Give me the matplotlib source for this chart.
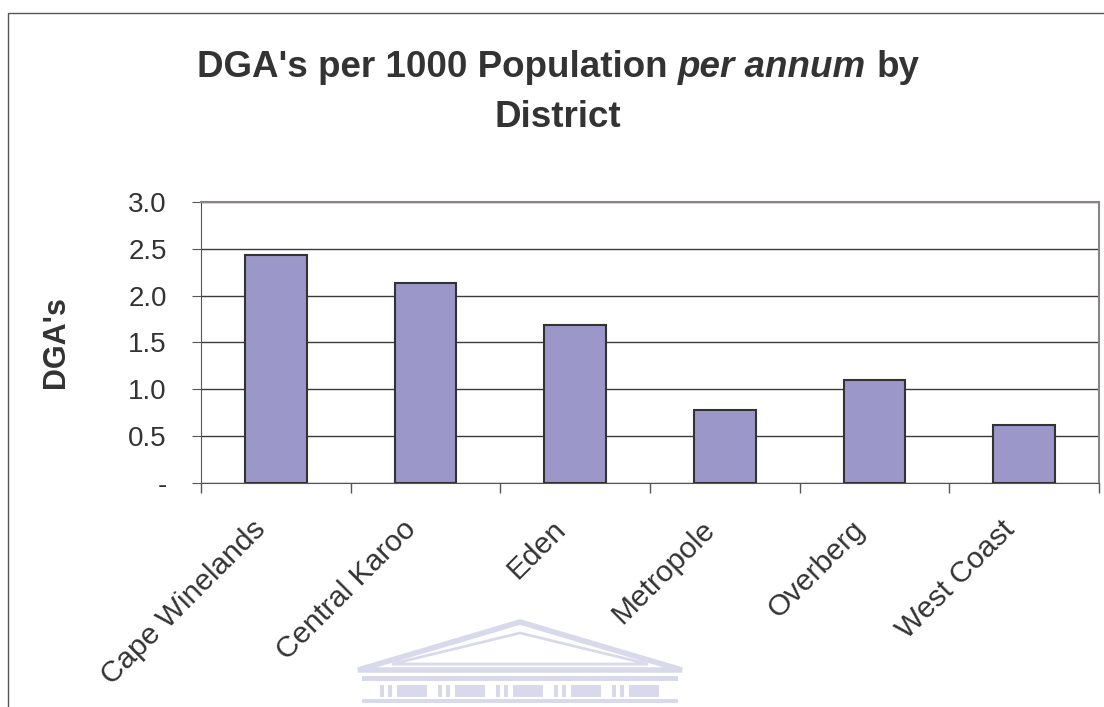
import numpy as np
import matplotlib
matplotlib.use("Agg")
import matplotlib.pyplot as plt
from matplotlib.patches import Rectangle, Polygon
from matplotlib.ticker import FixedLocator, FuncFormatter
from matplotlib.transforms import ScaledTranslation

plt.rcParams['font.family'] = ['Liberation Sans', 'DejaVu Sans']

districts = ["Cape Winelands", "Central Karoo", "Eden", "Metropole", "Overberg", "West Coast"]
dga_rates = [2.43, 2.13, 1.69, 0.78, 1.10, 0.62]
y_ticks = [0.0, 0.5, 1.0, 1.5, 2.0, 2.5, 3.0]

W, H = 1104, 707
text_col = "#333333"
bar_col = "#9b97c8"

fig = plt.figure(figsize=(W / 100, H / 100), dpi=100)
fig.patch.set_facecolor("white")

# outer chart frame (runs off the right and bottom edge)
fig.patches.append(Rectangle((8 / W, -0.05), 1.2, 1 - 13 / H + 0.05,
                             transform=fig.transFigure, fill=False,
                             edgecolor="#555555", linewidth=1.0))

# faint building watermark under the category labels (pixel coords from top)
wm = "#d8daec"
def px(pts):
    return [(xx, H - yy) for xx, yy in pts]

fig.patches.append(Polygon(px([(358, 670), (520, 622), (682, 670)]), closed=True,
                           transform=None, fill=False, edgecolor=wm, linewidth=4))
fig.patches.append(Polygon(px([(392, 664), (520, 633), (648, 664)]), closed=True,
                           transform=None, fill=False, edgecolor=wm, linewidth=2))
fig.patches.append(Rectangle((362, H - 681), 316, 5, transform=None,
                             facecolor=wm, edgecolor="none"))
for i in range(5):
    x0 = 380 + i * 58
    for dx, w in [(0, 4), (8, 4), (17, 30)]:
        fig.patches.append(Rectangle((x0 + dx, H - 697), w, 12, transform=None,
                                     facecolor=wm, edgecolor="none"))
fig.patches.append(Rectangle((362, H - 703), 316, 4, transform=None,
                             facecolor=wm, edgecolor="none"))

ax = fig.add_axes([201 / W, 1 - 483.3 / H, (1099 - 201) / W, (483.3 - 201.7) / H])
x = np.arange(len(districts))
ax.bar(x, dga_rates, width=0.41, color=bar_col, edgecolor="#333333",
       linewidth=1.5, zorder=3)

ax.set_xlim(-0.5, len(districts) - 0.5)
ax.set_ylim(0, 3.0)
ax.set_yticks(y_ticks)
ax.yaxis.set_major_formatter(FuncFormatter(lambda v, p: "-" if v == 0 else f"{v:.1f}"))
ax.yaxis.grid(True, color="#3a3a3a", linewidth=1.0, zorder=0)
ax.set_axisbelow(True)

ax.set_xticks(x)
ax.set_xticklabels(districts, rotation=45, ha="right", rotation_mode="anchor")
ax.xaxis.set_minor_locator(FixedLocator(np.arange(-0.5, len(districts), 1.0)))
ax.tick_params(axis="x", which="major", length=0, pad=23, labelsize=21.5,
               labelcolor=text_col)
ax.tick_params(axis="x", which="minor", length=7, color="#555555", width=1)
ax.tick_params(axis="y", length=6.5, pad=18, labelsize=20, color="#555555",
               labelcolor=text_col)
shift = ScaledTranslation(-24 / 100, 0, fig.dpi_scale_trans)
for lab in ax.get_xticklabels():
    lab.set_transform(lab.get_transform() + shift)

for side in ["top", "right"]:
    ax.spines[side].set_color("#8c8484")
    ax.spines[side].set_linewidth(1.5)
ax.spines["left"].set_color("#555555")
ax.spines["bottom"].set_color("#555555")

ax.set_ylabel("DGA's", fontsize=22, fontweight="bold", color=text_col, labelpad=41)

# two-line title with an italic phrase in the first line
fs = 26.5
fig.canvas.draw()
r = fig.canvas.get_renderer()
parts = [("DGA's per 1000 Population", "normal"), ("per annum", "italic"), ("by", "normal")]
texts = [fig.text(0, 0, s, fontsize=fs, fontweight="bold", style=st, color=text_col,
                  transform=None) for s, st in parts]
probe_a = fig.text(0, 0, "xx", fontsize=fs, fontweight="bold", transform=None)
probe_b = fig.text(0, 0, "x x", fontsize=fs, fontweight="bold", transform=None)
space = probe_b.get_window_extent(r).width - probe_a.get_window_extent(r).width
probe_a.remove()
probe_b.remove()
widths = [t.get_window_extent(r).width for t in texts]
total = sum(widths) + 2 * space
cx = 558
xpos = cx - total / 2
for t, w in zip(texts, widths):
    t.set_position((xpos, H - 77))
    xpos += w + space
fig.text(cx, H - 127, "District", fontsize=fs, fontweight="bold", color=text_col,
         ha="center", transform=None)

fig.savefig("out.png", dpi=100)
